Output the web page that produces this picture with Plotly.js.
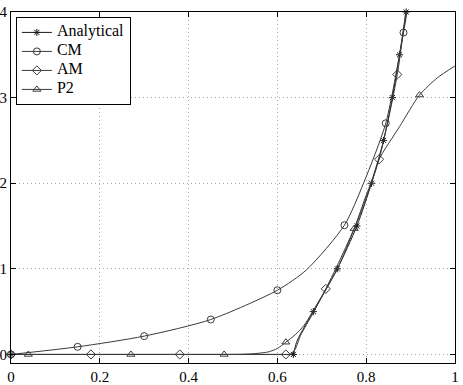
<!DOCTYPE html>
<html>
<head>
<meta charset="utf-8">
<script src="https://cdn.plot.ly/plotly-3.0.1.min.js"></script>
<style>
  html, body { margin: 0; padding: 0; background: #fff; }
  #graph { width: 463px; height: 385px; }
</style>
</head>
<body>
<div id="graph"></div>
<script>
  // values
  var xTicks = [0, 0.2, 0.4, 0.6, 0.8, 1];
  var yTicks = [0, 1, 2, 3, 4];

  var anaLineX = [0, 0.3, 0.6, 0.625, 0.636, 0.638, 0.643, 0.655, 0.681, 0.735, 0.779, 0.812, 0.839, 0.859, 0.875, 0.890];
  var anaLineY = [0, 0, 0, 0, 0, 0.04, 0.14, 0.27, 0.5, 1.0, 1.5, 2.0, 2.5, 3.0, 3.5, 4.0];
  var anaMarkX = [0, 0.636, 0.681, 0.735, 0.779, 0.812, 0.839, 0.859, 0.875, 0.890];
  var anaMarkY = [0, 0, 0.5, 1.0, 1.5, 2.0, 2.5, 3.0, 3.5, 4.0];

  var cmLineX = [0, 0.15, 0.30, 0.45, 0.60, 0.666, 0.751, 0.794, 0.844, 0.884, 0.892];
  var cmLineY = [0, 0.089, 0.214, 0.408, 0.75, 0.99, 1.51, 2.0, 2.70, 3.76, 4.0];
  var cmMarkX = [0, 0.15, 0.30, 0.45, 0.60, 0.751, 0.844, 0.884];
  var cmMarkY = [0, 0.089, 0.214, 0.408, 0.75, 1.51, 2.70, 3.76];

  var amLineX = [0, 0.18, 0.38, 0.58, 0.615, 0.628, 0.640, 0.652, 0.680, 0.709, 0.745, 0.785, 0.829, 0.870, 0.889];
  var amLineY = [0, 0, 0, 0, 0, 0, 0.06, 0.22, 0.48, 0.766, 1.15, 1.62, 2.28, 3.27, 4.0];
  var amMarkX = [0, 0.18, 0.38, 0.619, 0.709, 0.829, 0.870];
  var amMarkY = [0, 0, 0, 0, 0.766, 2.28, 3.27];

  var p2LineX = [0, 0.039, 0.27, 0.48, 0.52, 0.55, 0.58, 0.60, 0.619, 0.64, 0.66, 0.685, 0.735, 0.773, 0.80, 0.812, 0.829, 0.875, 0.92, 0.96, 1.0];
  var p2LineY = [0, 0, 0, 0, 0.002, 0.01, 0.03, 0.07, 0.143, 0.23, 0.34, 0.55, 1.0, 1.47, 1.86, 2.02, 2.28, 2.66, 3.03, 3.23, 3.37];
  var p2MarkX = [0.039, 0.27, 0.48, 0.619, 0.773, 0.92];
  var p2MarkY = [0, 0, 0, 0.143, 1.47, 3.03];

  var ink = '#3a3a3a';
  var serif = 'Liberation Serif, Times New Roman, serif';

  function series(name, lx, ly, mx, my, symbol, msize, lcolor) {
    var line = {
      type: 'scatter', mode: 'lines', x: lx, y: ly, showlegend: false,
      line: {color: lcolor, width: 1, shape: 'spline', smoothing: 0.7},
      hoverinfo: 'skip'
    };
    var marks = {
      type: 'scatter', mode: 'markers', x: mx, y: my, showlegend: false,
      marker: {symbol: symbol, size: msize, color: lcolor, line: {color: lcolor, width: 1}},
      cliponaxis: false, hoverinfo: 'skip'
    };
    // legend entry only (bigger glyphs inside a tighter row)
    var key = {
      type: 'scatter', mode: 'lines+markers', x: [null], y: [null],
      name: '<span style="font-size:16px">' + name + '</span>',
      line: {color: lcolor, width: 1},
      marker: {symbol: symbol, size: msize, color: lcolor, line: {color: lcolor, width: 1}}
    };
    return [line, marks, key];
  }

  var traces = [].concat(
    series('Analytical', anaLineX, anaLineY, anaMarkX, anaMarkY, 'asterisk-open', 6, '#1a1a1a'),
    series('CM', cmLineX, cmLineY, cmMarkX, cmMarkY, 'circle-open', 7, ink),
    series('AM', amLineX, amLineY, amMarkX, amMarkY, 'diamond-open', 7, ink),
    series('P2', p2LineX, p2LineY, p2MarkX, p2MarkY, 'triangle-up-open', 7, ink)
  );

  var axisCommon = {
    showline: true, mirror: 'ticks', linecolor: '#000', linewidth: 1,
    ticks: 'inside', ticklen: 5, tickcolor: '#000', tickwidth: 1,
    showgrid: true, gridcolor: '#a8a8a8', griddash: '1px,3px', gridwidth: 1,
    zeroline: false, tickfont: {family: serif, size: 15, color: '#000'}
  };

  var layout = {
    width: 463, height: 385,
    margin: {l: 11, r: 8, t: 12, b: 22},
    paper_bgcolor: '#fff', plot_bgcolor: '#fff',
    font: {family: serif, color: '#000'},
    xaxis: Object.assign({}, axisCommon, {range: [0, 1], tickvals: xTicks, ticktext: xTicks.map(String)}),
    yaxis: Object.assign({}, axisCommon, {range: [-0.1, 4], tickvals: yTicks, ticktext: yTicks.map(String)}),
    legend: {
      x: 0.011, y: 0.986, xanchor: 'left', yanchor: 'top',
      bgcolor: '#fff', bordercolor: '#000', borderwidth: 1,
      font: {family: serif, size: 10, color: '#000'},
      itemwidth: 30, tracegroupgap: 0
    },
    showlegend: true
  };

  Plotly.newPlot('graph', traces, layout, {staticPlot: true, displayModeBar: false});
</script>
</body>
</html>
